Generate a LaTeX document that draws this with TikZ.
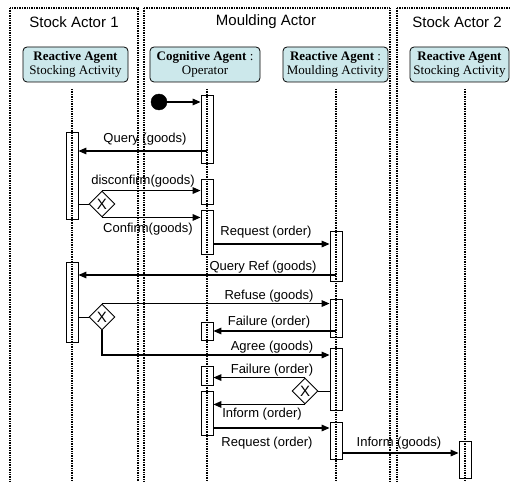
\documentclass[tikz,border=0pt]{standalone}
\usepackage{fontspec}
\setmainfont{Liberation Serif}
\setsansfont{Liberation Sans}
\usetikzlibrary{arrows.meta,shapes.geometric}
\definecolor{agentfill}{RGB}{204,232,235}
\begin{document}
\begin{tikzpicture}[x=1pt, y=-1pt, lane/.style = {draw, dash pattern=on 1pt off 0.7pt, line width=1.4pt},
		agent/.style = {draw, line width=0.8pt, rounded corners=4pt, fill=agentfill, minimum width=105, minimum height=35, align=center, inner sep=1pt, font=\fontsize{13}{14.5}\selectfont},
		life/.style = {dash pattern=on 1pt off 0.7pt, line width=2pt}, bar/.style = {draw, line width=0.8pt, minimum width=12, inner sep=0},
		choice/.style = {draw, diamond, shape aspect=1, fill=white, line width=0.9pt, minimum size=26, inner sep=0, font=\sffamily\fontsize{15}{15}\selectfont},
		msg/.style = {-{Triangle[length=8pt,width=6.5pt]}, line width=1.5pt},
		lbl/.style = {font=\sffamily\fontsize{13}{13}\selectfont, inner sep=0}, title/.style = {font=\sffamily\fontsize{15}{15}\selectfont}]
			\useasboundingbox (0,0) rectangle (510,481);
			\draw[lane] (10,8) rectangle (138,490);
			\draw[lane] (144,8) rectangle (390,490);
			\draw[lane] (397,8) rectangle (530,490);
			\node[title] (t1) at (74,22) {Stock Actor 1};
			\node[title] (t2) at (266,22) {Moulding Actor};
			\node[title] (t3) at (457,22) {Stock Actor 2};
			\node[agent] (a1) at (75.5,64.5) {\textbf{Reactive Agent}\\Stocking Activity};
			\node[agent, minimum width=110] (a2) at (205,64.5) {\textbf{Cognitive Agent} :\\Operator};
			\node[agent] (a3) at (335.5,64.5) {\textbf{Reactive Agent} :\\Moulding Activity};
			\node[agent, minimum width=99] (a4) at (459.5,64.5) {\textbf{Reactive Agent}\\Stocking Activity};
			\node[bar, minimum height=87] (s1a) at (72,175.5) {};
			\node[bar, minimum height=80] (s1b) at (72,302) {};
			\node[bar, minimum height=68] (ca) at (207,129) {};
			\node[bar, minimum height=25] (cb) at (207,191.5) {};
			\node[bar, minimum height=44] (cc) at (207,232) {};
			\node[bar, minimum height=18] (cd) at (207,331) {};
			\node[bar, minimum height=19] (ce) at (207,375.5) {};
			\node[bar, minimum height=44] (cf) at (207,413) {};
			\node[bar, minimum height=50] (m1) at (336,256) {};
			\node[bar, minimum height=38] (m2) at (336,318) {};
			\node[bar, minimum height=62] (m3) at (336,379) {};
			\node[bar, minimum height=37] (m4) at (336,440.5) {};
			\node[bar, minimum height=37] (s2) at (465,459.5) {};
			\draw[life] (s1a |- 0,89) -- (s1a |- 0,490);
			\draw[life] (ca |- 0,89) -- (ca |- 0,490);
			\draw[life] (m1 |- 0,89) -- (m1 |- 0,490);
			\draw[life] (s2 |- 0,89) -- (s2 |- 0,490);
			\node[draw, circle, fill, minimum size=16, inner sep=0] (start) at (159,102) {};
			\node[choice] (d1) at (102,204) {X};
			\node[choice] (d2) at (102,317) {X};
			\node[choice] (d3) at (305,391) {X};
			\draw[msg] (start) -- (start -| ca.west);
			\draw[msg] (ca |- 0,151) -- (s1a.east |- 0,151);
			\draw[line width=0.9pt] (d1.west -| s1a.east) -- (d1.west);
			\draw[msg] (d1.north) -- (d1.north -| cb.west);
			\draw[msg] (d1.south) -- (d1.south -| cc.west);
			\draw[msg] (cc.east |- 0,244) -- (m1.west |- 0,244);
			\draw[msg] (m1 |- 0,275) -- (s1b.east |- 0,275);
			\draw[line width=0.9pt] (d2.west -| s1b.east) -- (d2.west);
			\draw[msg] (d2.north) -- (d2.north -| m2.west);
			\draw[msg] (cd.east -| m2.center) -- (cd.east);
			\draw[msg] (d2.south) |- (m3.west |- 0,355);
			\draw[line width=0.9pt] (d3.east -| m3.west) -- (d3.east);
			\draw[msg] (d3.north) -- (d3.north -| ce.east);
			\draw[msg] (d3.south) -- (d3.south -| cf.east);
			\draw[msg] (cf.east |- 0,428) -- (m4.west |- 0,428);
			\draw[msg] (m4.east |- 0,453) -- (s2.west |- 0,453);
			\node[lbl] (l1) at (145,139) {Query (goods)};
			\node[lbl] (l2) at (143,181) {disconfirm(goods)};
			\node[lbl] (l3) at (148,229) {Confirm(goods)};
			\node[lbl] (l4) at (266,232) {Request (order)};
			\node[lbl] (l5) at (263,267) {Query Ref (goods)};
			\node[lbl] (l6) at (269,296) {Refuse (goods)};
			\node[lbl] (l7) at (269,322) {Failure (order)};
			\node[lbl] (l8) at (272,347) {Agree (goods)};
			\node[lbl] (l9) at (272,370) {Failure (order)};
			\node[lbl] (l10) at (262,414) {Inform (order)};
			\node[lbl] (l11) at (267,443) {Request (order)};
			\node[lbl] (l12) at (399,443) {Inform (goods)};
		\end{tikzpicture}
\end{document}
